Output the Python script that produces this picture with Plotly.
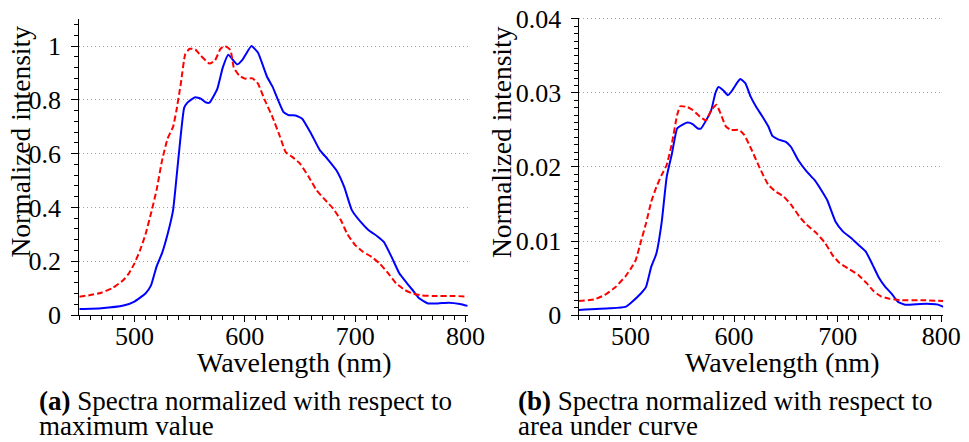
import plotly.graph_objects as go

# ---- data: left panel (normalized to maximum) ----
wl_blue_max = [450, 470, 490, 500, 510, 515, 520, 525, 530, 535, 540, 545, 548, 555, 560, 565, 568,
               575, 580, 585, 593, 598, 606, 612, 620, 625, 635, 640, 646, 652, 660, 668, 675, 683,
               690, 697, 705, 712, 720, 726, 733, 740, 747, 752, 758, 766, 775, 785, 795, 802]
blue_max = [0.022, 0.025, 0.035, 0.05, 0.08, 0.11, 0.18, 0.23, 0.30, 0.39, 0.59, 0.77, 0.79, 0.81, 0.805,
            0.79, 0.79, 0.84, 0.92, 0.968, 0.932, 0.95, 1.0, 0.975, 0.887, 0.85, 0.755, 0.743, 0.742,
            0.73, 0.675, 0.613, 0.58, 0.538, 0.477, 0.39, 0.346, 0.316, 0.293, 0.272, 0.216, 0.155,
            0.118, 0.093, 0.062, 0.043, 0.043, 0.046, 0.041, 0.034]

wl_red_max = [450, 460, 470, 480, 490, 495, 500, 505, 510, 515, 520, 525, 530, 535, 538, 542, 546, 550,
              555, 560, 568, 573, 578, 582, 587, 590, 595, 600, 607, 612, 618, 625, 632, 637, 643, 650,
              658, 665, 673, 680, 687, 693, 700, 707, 715, 722, 730, 737, 745, 752, 760, 770, 790, 802]
red_max = [0.068, 0.074, 0.083, 0.10, 0.13, 0.155, 0.192, 0.24, 0.30, 0.378, 0.464, 0.575, 0.656, 0.70,
           0.76, 0.86, 0.97, 0.99, 0.988, 0.965, 0.935, 0.947, 0.99, 1.0, 0.985, 0.92, 0.89, 0.879, 0.88,
           0.86, 0.80, 0.737, 0.662, 0.606, 0.588, 0.563, 0.513, 0.464, 0.427, 0.396, 0.353, 0.30, 0.26,
           0.235, 0.216, 0.192, 0.155, 0.118, 0.093, 0.08, 0.073, 0.071, 0.071, 0.068]

# ---- data: right panel (normalized to area) ----
wl_blue_area = [450, 480, 495, 500, 510, 515, 520, 525, 530, 535, 540, 545, 550, 555, 560, 565, 568, 573,
                578, 582, 585, 590, 594, 598, 603, 606, 611, 616, 621, 627, 633, 637, 643, 650, 655, 662,
                670, 678, 685, 690, 698, 705, 713, 720, 727, 733, 740, 746, 752, 758, 765, 780, 790, 797, 802]
blue_area = [0.00068, 0.0009, 0.0011, 0.0016, 0.0029, 0.0038, 0.0065, 0.0083, 0.0124, 0.0187, 0.0218,
             0.0252, 0.0257, 0.026, 0.0258, 0.0252, 0.0252, 0.0263, 0.0277, 0.030, 0.0308, 0.0303, 0.0297,
             0.0303, 0.0314, 0.0319, 0.0313, 0.0295, 0.0282, 0.0269, 0.0255, 0.0242, 0.0237, 0.0234,
             0.0227, 0.0209, 0.0194, 0.0182, 0.0167, 0.0155, 0.0126, 0.0113, 0.0104, 0.0095, 0.0086,
             0.007, 0.005, 0.0038, 0.0029, 0.0018, 0.0014, 0.0015, 0.0015, 0.0014, 0.0011]

wl_red_area = [450, 465, 475, 485, 495, 500, 505, 510, 515, 520, 525, 530, 535, 540, 545, 548, 555, 560,
               567, 573, 578, 583, 587, 592, 597, 605, 610, 617, 625, 633, 640, 648, 655, 663, 670, 680,
               688, 695, 702, 710, 720, 728, 735, 742, 750, 760, 780, 802]
red_area = [0.0019, 0.0021, 0.0027, 0.0037, 0.0052, 0.0062, 0.0074, 0.0099, 0.0124, 0.0153, 0.0173,
            0.0189, 0.0203, 0.0232, 0.027, 0.0282, 0.0281, 0.0277, 0.0268, 0.0263, 0.0277, 0.0284, 0.0272,
            0.0255, 0.025, 0.025, 0.0243, 0.0223, 0.0198, 0.0176, 0.0167, 0.016, 0.0149, 0.0133, 0.0122,
            0.011, 0.0097, 0.0081, 0.007, 0.0063, 0.0054, 0.0043, 0.0032, 0.0025, 0.0022, 0.002, 0.002,
            0.0019]

FONT = "Liberation Serif, Times New Roman, DejaVu Serif, serif"
OFF = 8                     # page body margin offset
W, H = 969 - OFF, 442 - OFF  # figure size
BLUE = "#0000ff"
RED = "#ff0000"

def px(x):   # page x pixel -> paper fraction
    return (x - OFF) / W

def py(y):   # page y pixel -> paper fraction
    return 1 - (y - OFF) / H

fig = go.Figure()
line_kw = dict(width=2, shape="spline", smoothing=0.4)
fig.add_trace(go.Scatter(x=wl_blue_max, y=blue_max, mode="lines", line=dict(color=BLUE, **line_kw),
                         xaxis="x", yaxis="y", showlegend=False))
fig.add_trace(go.Scatter(x=wl_red_max, y=red_max, mode="lines", line=dict(color=RED, dash="6px,3px", **line_kw),
                         xaxis="x", yaxis="y", showlegend=False))
fig.add_trace(go.Scatter(x=wl_blue_area, y=blue_area, mode="lines", line=dict(color=BLUE, **line_kw),
                         xaxis="x2", yaxis="y2", showlegend=False))
fig.add_trace(go.Scatter(x=wl_red_area, y=red_area, mode="lines", line=dict(color=RED, dash="6px,3px", **line_kw),
                         xaxis="x2", yaxis="y2", showlegend=False))

ydom1 = [py(315), py(19.2)]
ydom2 = [py(315), py(17.5)]
xdom1 = [px(79.3), px(467.7)]
xdom2 = [px(578.7), px(943.3)]

def xaxis(dom, anchor):
    return dict(domain=dom, anchor=anchor, range=[450, 802], tickmode="linear", tick0=0, dtick=100,
                automargin=False,
                ticks="outside", ticklen=6, tickwidth=1, tickcolor="black", ticklabelstandoff=-8,
                showline=True, linecolor="black", linewidth=1.3, showgrid=False, zeroline=False,
                tickfont=dict(family=FONT, size=26, color="black"),
                minor=dict(tickmode="linear", dtick=10, tick0=0, ticks="outside", ticklen=4,
                           tickcolor="black", tickwidth=1, showgrid=False))

def yaxis(dom, rng, dt, mdt, anchor, standoff):
    return dict(domain=dom, anchor=anchor, range=rng, tickmode="linear", tick0=0, dtick=dt,
                automargin=False, ticklabeloverflow="allow",
                ticks="outside", ticklen=7, tickwidth=1, tickcolor="black", ticklabelstandoff=standoff,
                showline=True, linecolor="black", linewidth=1.3, zeroline=False,
                showgrid=True, gridcolor="#a0a0a0", griddash="1px,3px", gridwidth=1,
                tickfont=dict(family=FONT, size=26, color="black"),
                minor=dict(tickmode="linear", dtick=mdt, tick0=0, ticks="outside", ticklen=4,
                           tickcolor="black", tickwidth=1, showgrid=False))

fig.update_layout(
    width=W, height=H, margin=dict(l=0, r=0, t=0, b=0, autoexpand=False),
    paper_bgcolor="white", plot_bgcolor="white",
    xaxis=xaxis(xdom1, "y"), yaxis=yaxis(ydom1, [0, 1.1], 0.2, 0.04, "x", 5),
    xaxis2=xaxis(xdom2, "y2"), yaxis2=yaxis(ydom2, [0, 0.0402], 0.01, 0.001, "x2", 4),
)

def ann(text, x, y, size, xanchor="center", yanchor="middle", angle=0):
    fig.add_annotation(text=text, x=px(x), y=py(y), xref="paper", yref="paper",
                       xanchor=xanchor, yanchor=yanchor, textangle=angle, showarrow=False,
                       font=dict(family=FONT, size=size, color="black"))

ann("Wavelength (nm)", 294, 362, 28)
ann("Wavelength (nm)", 782, 362, 28)
ann("Normalized intensity", 19.5, 142, 27.5, angle=-90)
ann("Normalized intensity", 501, 142, 27.5, angle=-90)

ann("<b>(a)</b> Spectra normalized with respect to", 37, 401, 27, xanchor="left")
ann("maximum value", 37, 426, 27, xanchor="left")
ann("<b>(b)</b> Spectra normalized with respect to", 516, 401, 27, xanchor="left")
ann("area under curve", 516, 426, 27, xanchor="left")

fig.write_html("out.html")
